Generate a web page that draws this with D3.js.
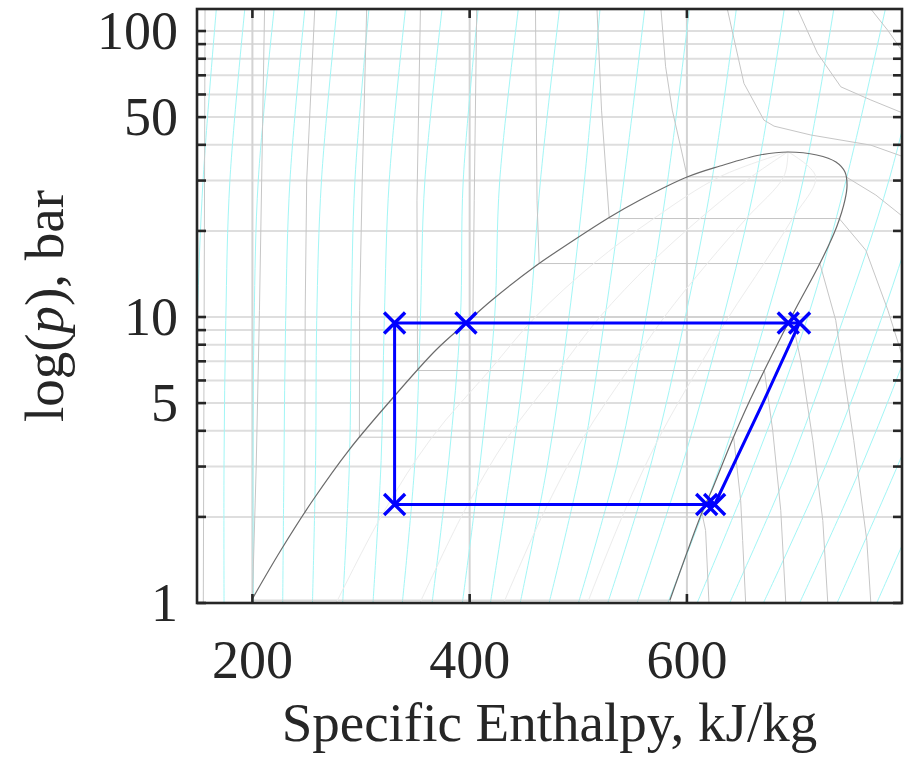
<!DOCTYPE html>
<html>
<head>
<meta charset="utf-8">
<script src="https://cdn.jsdelivr.net/npm/d3@7"></script>
<style>
  html, body { margin: 0; padding: 0; background: #ffffff; }
  svg { display: block; }
  text { font-family: "Liberation Serif", "Times New Roman", serif; fill: #262626; }
</style>
</head>
<body>
<svg id="chart" width="907" height="757"></svg>
<script>
// ---- axis limits and ticks ----
const hLimits = [149, 798];            // specific enthalpy, kJ/kg
const pLimits = [1, 119.4];            // pressure, bar (log axis)
const hTicks = [200, 400, 600];
const pGrid = [1, 2, 3, 4, 5, 6, 7, 8, 9, 10, 20, 30, 40, 50, 60, 70, 80, 90, 100];
const pTickLabels = [1, 5, 10, 50, 100];

// ---- isentropes: enthalpy at each of these pressures ----
const isentropeP = [1, 3.15, 9.74, 30.1, 119.4];
const isentropeH = [
  [146.3, 147.6, 149.3, 154.6, 166.8],
  [173.9, 173.9, 175.5, 179.3, 193.0],
  [200.9, 200.6, 201.6, 205.4, 220.0],
  [227.9, 229.1, 230.6, 234.6, 248.3],
  [255.3, 258.2, 259.2, 263.6, 277.8],
  [283.1, 289.4, 291.0, 294.4, 307.3],
  [311.0, 318.5, 321.4, 326.0, 340.9],
  [338.0, 349.7, 354.6, 358.8, 374.6],
  [365.4, 380.8, 391.4, 394.1, 407.8],
  [393.3, 409.9, 422.8, 427.7, 444.8],
  [419.1, 439.0, 455.0, 465.2, 482.7],
  [446.5, 472.3, 491.0, 505.7, 520.0],
  [473.1, 503.4, 524.1, 542.0, 561.2],
  [500.1, 536.7, 561.9, 582.3, 602.3],
  [527.1, 567.8, 597.9, 623.0, 645.5],
  [554.1, 597.0, 632.9, 663.4, 689.6],
  [582.3, 632.3, 672.5, 707.0, 735.2],
  [609.4, 663.3, 710.3, 746.5, 782.7],
  [639.3, 696.5, 743.5, 786.0, 824.6],
  [670.4, 729.7, 778.5, 820.0, 861.5],
  [703.7, 762.9, 813.5, 856.9, 898.3],
  [738.2, 796.0, 847.6, 889.0, 930.0],
  [774.7, 832.0, 884.5, 920.0, 960.0]
];

// ---- isotherms as [h, p] polylines (liquid, two-phase, vapour) ----
const isotherms = [
  [[156.4, 119.4], [154.8, 1.0]],
  [[211.2, 119.4], [206.5, 10.56], [203.5, 3.0], [200.0, 1.023], [584.6, 1.023], [585.2, 1.0]],
  [[257.4, 119.4], [250.0, 30.1], [248.6, 10.56], [248.2, 2.067], [613.8, 2.067], [617.2, 1.792], [620.3, 1.0]],
  [[305.2, 119.4], [301.1, 30.1], [298.7, 10.56], [298.5, 3.80], [643.0, 3.80], [649.5, 2.28], [651.3, 1.654], [654.1, 1.0]],
  [[354.7, 119.4], [351.5, 25.6], [352.0, 6.5], [671.3, 6.5], [679.0, 4.01], [686.4, 2.105], [691.0, 1.0]],
  [[406.5, 119.4], [404.2, 25.6], [403.0, 10.0], [696.2, 10.0], [704.8, 7.05], [715.9, 3.70], [725.1, 1.942], [729.7, 1.0]],
  [[460.6, 119.4], [462.0, 25.6], [464.0, 15.38], [722.4, 15.38], [737.0, 9.74], [753.6, 3.70], [765.6, 1.654], [769.3, 1.0]],
  [[517.2, 119.4], [521.4, 52.9], [528.5, 22.1], [740.2, 22.1], [764.7, 17.12], [785.0, 10.56], [802.5, 6.5]],
  [[576.1, 119.4], [580.4, 75.0], [586.5, 52.9], [594.2, 39.4], [600.3, 30.9], [746.5, 30.9], [773.9, 26.7], [799.7, 22.3]],
  [[637.2, 119.4], [652.5, 65.6], [670.9, 48.8], [680.2, 46.5], [714.0, 43.3], [769.3, 39.9], [799.7, 36.3]],
  [[701.8, 119.4], [720.2, 83.6], [741.7, 63.8], [769.3, 57.4], [799.7, 51.5]],
  [[769.3, 119.4], [784.7, 100.8], [799.7, 83.6]]
];

// ---- saturation dome: liquid side up to the critical point, then vapour side ----
const domeH = [199.9, 226.3, 255.8, 288.9, 327.6, 369.0, 396.6, 420.6, 462.0, 482.2, 529.2, 556.8, 600.1, 630.5, 667.3, 693.0,
               719.5, 737.2, 745.5, 747.4, 745.5, 737.9, 722.5, 699.5, 678.3, 658.1, 640.6, 624.3, 613.6, 599.8, 584.4];
const domeP = [1.033, 1.532, 2.292, 3.427, 5.126, 7.665, 9.53, 11.47, 15.20, 17.15, 22.37, 25.66, 30.87, 33.73, 36.86, 37.76,
               36.86, 34.83, 32.14, 28.94, 25.66, 20.69, 15.41, 10.58, 7.366, 5.126, 3.626, 2.551, 2.059, 1.492, 1.024];

// ---- constant-quality lines inside the dome (x = 0.2, 0.4, 0.6, 0.8) ----
const qualityP = [1.0, 2.07, 3.8, 6.5, 10, 15.4, 22.1, 31, 37.8];
const qualityH = [
  [277.1, 320.5, 365.4, 418.2, 460.5, 514.3, 569.5, 630.8, 693.0],
  [354.2, 394.3, 435.1, 481.9, 519.8, 566.5, 612.1, 659.8, 693.0],
  [431.3, 468.2, 504.9, 545.5, 579.2, 618.8, 654.6, 689.2, 693.0],
  [508.4, 542.0, 574.6, 609.2, 638.5, 671.0, 697.2, 718.4, 693.0]
];

// ---- refrigeration cycle ----
const cycleH = [625.5, 671.0, 703.7, 693.3, 396.6, 330.9, 330.9, 618.2, 625.5];
const cycleP = [2.21, 5.11, 9.53, 9.53, 9.53, 9.53, 2.21, 2.21, 2.21];
const stateH = [330.9, 396.6, 693.3, 703.7, 330.9, 618.2, 625.5];
const stateP = [9.53, 9.53, 9.53, 9.53, 2.21, 2.21, 2.21];

// ---- layout ----
const plot = { left: 197, right: 902, top: 9, bottom: 603 };
const svg = d3.select("#chart");

const x = d3.scaleLinear().domain(hLimits).range([plot.left, plot.right]);
const y = d3.scaleLog().domain(pLimits).range([plot.bottom, plot.top]);

svg.append("defs").append("clipPath").attr("id", "plot-clip")
  .append("rect")
  .attr("x", plot.left).attr("y", plot.top)
  .attr("width", plot.right - plot.left).attr("height", plot.bottom - plot.top);

// grid
const grid = svg.append("g");
grid.selectAll("line.hg").data(pGrid).join("line")
  .attr("x1", plot.left).attr("x2", plot.right)
  .attr("y1", d => y(d)).attr("y2", d => y(d))
  .attr("stroke", "#dedede").attr("stroke-width", 2);
grid.selectAll("line.vg").data(hTicks).join("line")
  .attr("x1", d => x(d)).attr("x2", d => x(d))
  .attr("y1", plot.top).attr("y2", plot.bottom)
  .attr("stroke", "#d3d3d3").attr("stroke-width", 2);

const data = svg.append("g").attr("clip-path", "url(#plot-clip)");
const line = d3.line().x(d => x(d[0])).y(d => y(d[1]));
const smooth = d3.line().x(d => x(d[0])).y(d => y(d[1])).curve(d3.curveCatmullRom.alpha(0.5));

// isentropes
data.append("g").selectAll("path").data(isentropeH).join("path")
  .attr("d", hs => smooth(hs.map((h, i) => [h, isentropeP[i]])))
  .attr("fill", "none").attr("stroke", "#a2f6f6").attr("stroke-width", 1);

// isotherms
data.append("g").selectAll("path").data(isotherms).join("path")
  .attr("d", line)
  .attr("fill", "none").attr("stroke", "#c6c6c6").attr("stroke-width", 1);

// quality lines
data.append("g").selectAll("path").data(qualityH).join("path")
  .attr("d", hs => smooth(hs.map((h, i) => [h, qualityP[i]])))
  .attr("fill", "none").attr("stroke", "#ececec").attr("stroke-width", 1);

// saturation dome
data.append("path")
  .attr("d", smooth(domeH.map((h, i) => [h, domeP[i]])))
  .attr("fill", "none").attr("stroke", "#6b6b6b").attr("stroke-width", 1.2);

// cycle
svg.append("path")
  .attr("d", line(cycleH.map((h, i) => [h, cycleP[i]])))
  .attr("fill", "none").attr("stroke", "#0000ff").attr("stroke-width", 3)
  .attr("stroke-linejoin", "round");

const m = 10.5;
svg.append("g").selectAll("path").data(stateH.map((h, i) => [h, stateP[i]])).join("path")
  .attr("d", d => {
    const cx = x(d[0]), cy = y(d[1]);
    return `M${cx - m},${cy - m}L${cx + m},${cy + m}M${cx - m},${cy + m}L${cx + m},${cy - m}`;
  })
  .attr("fill", "none").attr("stroke", "#0000ff").attr("stroke-width", 3.4);

// axes box and inward ticks
const axes = svg.append("g").attr("stroke", "#262626");
axes.append("rect")
  .attr("x", plot.left).attr("y", plot.top)
  .attr("width", plot.right - plot.left).attr("height", plot.bottom - plot.top)
  .attr("fill", "none").attr("stroke-width", 2.6);
const tl = 9;
axes.selectAll("line.yl").data(pGrid).join("line")
  .attr("x1", plot.left).attr("x2", plot.left + tl)
  .attr("y1", d => y(d)).attr("y2", d => y(d)).attr("stroke-width", 2.6);
axes.selectAll("line.yr").data(pGrid).join("line")
  .attr("x1", plot.right).attr("x2", plot.right - tl)
  .attr("y1", d => y(d)).attr("y2", d => y(d)).attr("stroke-width", 2.6);
axes.selectAll("line.xb").data(hTicks).join("line")
  .attr("x1", d => x(d)).attr("x2", d => x(d))
  .attr("y1", plot.bottom).attr("y2", plot.bottom - tl).attr("stroke-width", 2.6);
axes.selectAll("line.xt").data(hTicks).join("line")
  .attr("x1", d => x(d)).attr("x2", d => x(d))
  .attr("y1", plot.top).attr("y2", plot.top + tl).attr("stroke-width", 2.6);

// tick labels
svg.append("g").selectAll("text").data(pTickLabels).join("text")
  .attr("x", 178).attr("y", d => y(d)).attr("dy", "0.34em")
  .attr("text-anchor", "end").attr("font-size", 54)
  .text(d => d);
svg.append("g").selectAll("text").data(hTicks).join("text")
  .attr("x", d => x(d)).attr("y", 678)
  .attr("text-anchor", "middle").attr("font-size", 54)
  .text(d => d);

// axis titles
svg.append("text")
  .attr("x", (plot.left + plot.right) / 2).attr("y", 741)
  .attr("text-anchor", "middle").attr("font-size", 55)
  .text("Specific Enthalpy, kJ/kg");

const yl = svg.append("text")
  .attr("transform", `translate(63,${(plot.top + plot.bottom) / 2}) rotate(-90)`)
  .attr("text-anchor", "middle").attr("font-size", 55);
yl.append("tspan").text("log(");
yl.append("tspan").attr("font-style", "italic").text("p");
yl.append("tspan").text("), bar");
</script>
</body>
</html>
